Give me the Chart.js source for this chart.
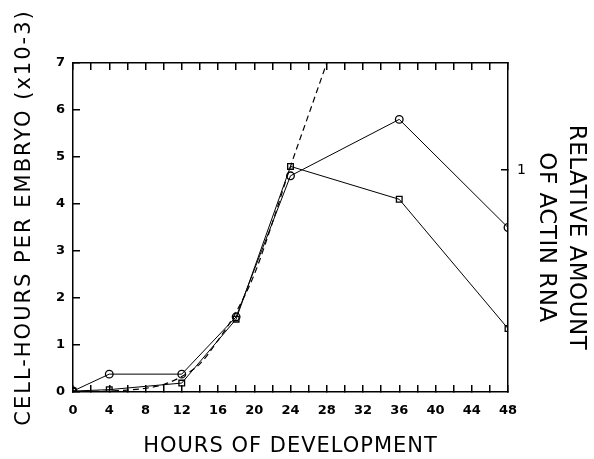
<!DOCTYPE html>
<html>
<head>
<meta charset="utf-8">
<title>Hours of development</title>
<script src="https://cdn.jsdelivr.net/npm/chart.js@4"></script>
<style>
    html, body { margin: 0; padding: 0; background: #fff; }
    canvas { display: block; }
</style>
</head>
<body>
<canvas id="chart" width="594" height="459"></canvas>
<script>
const sampleHours = [0, 4, 12, 18, 24, 36, 48];
const circleValues = [0.02, 0.38, 0.38, 1.6, 4.6, 5.8, 3.5];
const squareValues = [0.02, 0.05, 0.19, 1.55, 4.8, 4.1, 1.35];

// Dashed curve
const curveHours = [0, 2, 4, 6, 8, 10, 12, 14, 16, 18, 20, 22, 24, 26, 28];
const curveValues = [0, 0.01, 0.02, 0.04, 0.08, 0.16, 0.33, 0.6, 1.1, 1.7, 2.5, 3.6, 4.8, 5.9, 7.0];

// Axis labels
const leftTitle = 'CELL-HOURS PER EMBRYO (x10-3)';
const rightTitle = ['RELATIVE AMOUNT', 'OF ACTIN RNA'];
const bottomTitle = 'HOURS OF DEVELOPMENT';
const rightTicks = [1];

const toPoints = (xs, ys) => xs.map((x, i) => ({ x: x, y: ys[i] }));

// Draws the three axis titles (wide plotter-style lettering)
const axisTitles = {
    id: 'axisTitles',
    afterDraw: function(chart) {
        const ctx = chart.ctx;
        const area = chart.chartArea;
        ctx.save();
        ctx.fillStyle = '#000';
        ctx.textAlign = 'center';
        ctx.textBaseline = 'middle';

        ctx.font = '21px "DejaVu Sans"';
        ctx.letterSpacing = '1px';
        ctx.fillText(bottomTitle, (area.left + area.right) / 2, area.bottom + 55);

        ctx.save();
        ctx.translate(25, (area.top + area.bottom) / 2 - 10);
        ctx.rotate(-Math.PI / 2);
        ctx.letterSpacing = '2px';
        ctx.fillText(leftTitle, 0, 0);
        ctx.restore();

        ctx.save();
        ctx.translate(area.right + 68, (area.top + area.bottom) / 2 + 10);
        ctx.rotate(Math.PI / 2);
        ctx.font = '23px "DejaVu Sans"';
        ctx.letterSpacing = '0.5px';
        rightTitle.forEach((line, i) => ctx.fillText(line, 0, i * 30));
        ctx.restore();

        ctx.restore();
    }
};

const tickFont = { family: 'DejaVu Sans', size: 13, weight: 'bold' };
// Negative tick length puts the tick marks inside the frame
const inwardGrid = { drawOnChartArea: false, tickLength: -7, color: '#000', lineWidth: 1.5 };
const axisBorder = { color: '#000', width: 1.5 };

new Chart(document.getElementById('chart'), {
    type: 'line',
    data: {
        datasets: [{
            data: toPoints(sampleHours, circleValues),
            borderColor: '#000',
            borderWidth: 1,
            pointStyle: 'circle',
            pointRadius: 3.8,
            pointBorderWidth: 1.3,
            pointBackgroundColor: 'rgba(0,0,0,0)',
            pointBorderColor: '#000'
        }, {
            data: toPoints(sampleHours, squareValues),
            borderColor: '#000',
            borderWidth: 1,
            pointStyle: 'rect',
            pointRadius: 4,
            pointBorderWidth: 1.3,
            pointBackgroundColor: 'rgba(0,0,0,0)',
            pointBorderColor: '#000'
        }, {
            data: toPoints(curveHours, curveValues),
            borderColor: '#000',
            borderWidth: 1.2,
            borderDash: [6, 4],
            pointRadius: 0,
            cubicInterpolationMode: 'monotone'
        }]
    },
    options: {
        responsive: false,
        animation: false,
        events: [],
        layout: { padding: 0 },
        plugins: {
            legend: { display: false },
            tooltip: { enabled: false }
        },
        scales: {
            x: {
                type: 'linear',
                position: 'bottom',
                min: 0,
                max: 48,
                grid: inwardGrid,
                border: axisBorder,
                ticks: {
                    stepSize: 2,
                    padding: 18,
                    color: '#000',
                    font: tickFont,
                    maxRotation: 0,
                    autoSkip: false,
                    callback: v => (v % 4 === 0 ? v : '')
                },
                afterFit: scale => { scale.height = 67; }
            },
            x2: {
                type: 'linear',
                position: 'top',
                min: 0,
                max: 48,
                grid: inwardGrid,
                border: axisBorder,
                ticks: { stepSize: 2, display: false, autoSkip: false },
                afterFit: scale => { scale.height = 63; }
            },
            y: {
                position: 'left',
                min: 0,
                max: 7,
                grid: inwardGrid,
                border: axisBorder,
                ticks: { stepSize: 1, padding: 15, color: '#000', font: tickFont },
                afterFit: scale => { scale.width = 73; }
            },
            y2: {
                position: 'right',
                min: 0,
                max: 7 / 4.72,
                grid: inwardGrid,
                border: axisBorder,
                ticks: { padding: 16, color: '#000', font: { family: 'DejaVu Sans', size: 14 } },
                afterBuildTicks: scale => { scale.ticks = rightTicks.map(v => ({ value: v })); },
                afterFit: scale => { scale.width = 86; }
            }
        }
    },
    plugins: [axisTitles]
});
</script>
</body>
</html>
